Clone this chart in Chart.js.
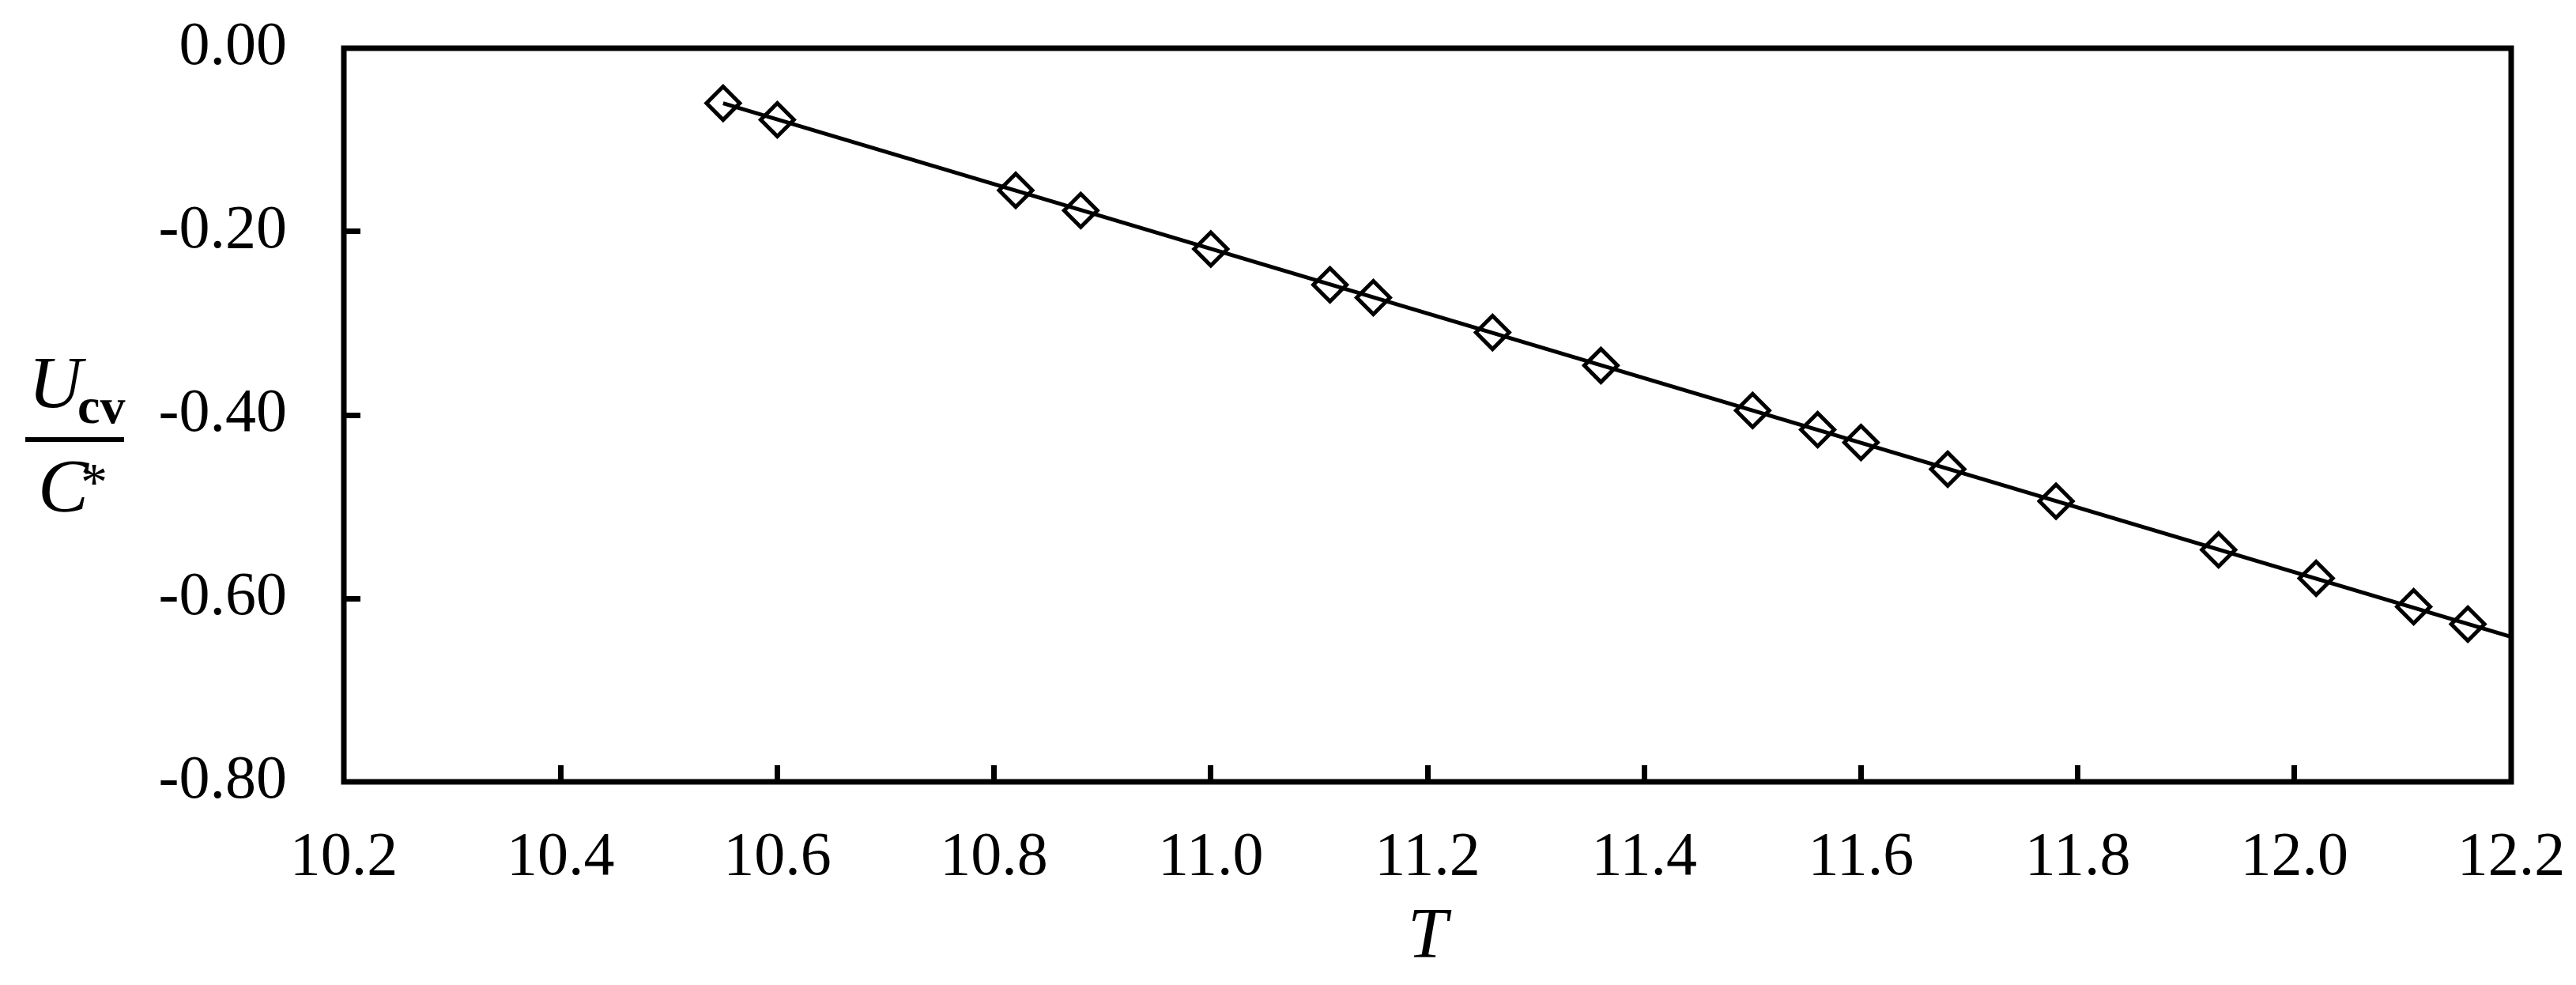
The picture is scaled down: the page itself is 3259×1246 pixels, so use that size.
<!DOCTYPE html>
<html>
<head>
<meta charset="utf-8">
<title>Ucv / C* vs T</title>
<script src="https://cdn.jsdelivr.net/npm/chart.js@4.4.1/dist/chart.umd.min.js"></script>
<style>
  html, body { margin: 0; padding: 0; background: #fff; }
  #chart { display: block; }
</style>
</head>
<body>
<canvas id="chart" width="3259" height="1246"></canvas>
<script>
// ────────────────────────────────────────────────
// Data
// ────────────────────────────────────────────────
const tValues = [10.55, 10.60, 10.82, 10.88, 11.00, 11.11, 11.15, 11.26, 11.36,
                 11.50, 11.56, 11.60, 11.68, 11.78, 11.93, 12.02, 12.11, 12.16];
const uValues = [-0.060, -0.078, -0.155, -0.177, -0.219, -0.258, -0.272, -0.310, -0.346,
                 -0.395, -0.416, -0.430, -0.459, -0.494, -0.547, -0.578, -0.609, -0.628];

// linear trend line, start and end
const fitT = [10.55, 12.2];
const fitU = [-0.060, -0.642];

const xTicks = [10.2, 10.4, 10.6, 10.8, 11.0, 11.2, 11.4, 11.6, 11.8, 12.0, 12.2];
const yTicks = [0.00, -0.20, -0.40, -0.60, -0.80];

const SERIF = '"Liberation Serif", "Times New Roman", Times, serif';
const INK = '#000';

// ────────────────────────────────────────────────
// Plugins: box frame, inward ticks, axis titles
// ────────────────────────────────────────────────
const framePlugin = {
    id: 'frame',
    afterDatasetsDraw(chart) {
        const { ctx, chartArea: a, scales } = chart;
        ctx.save();
        ctx.fillStyle = INK;

        // inward tick marks on bottom and left
        const tickLen = 21, tickW = 7;
        xTicks.slice(1, -1).forEach(v => {
            const px = scales.x.getPixelForValue(v);
            ctx.fillRect(Math.round(px - tickW / 2), a.bottom - tickLen, tickW, tickLen);
        });
        yTicks.slice(1, -1).forEach(v => {
            const py = scales.y.getPixelForValue(v);
            ctx.fillRect(a.left, Math.round(py - tickW / 2), tickLen, tickW);
        });

        // box
        ctx.strokeStyle = INK;
        ctx.lineWidth = 7;
        ctx.strokeRect(a.left, a.top, a.right - a.left, a.bottom - a.top);
        ctx.restore();
    },
    afterDraw(chart) {
        const { ctx, chartArea: a } = chart;
        ctx.save();
        ctx.fillStyle = INK;
        ctx.textBaseline = 'alphabetic';

        // x title
        ctx.textAlign = 'center';
        ctx.font = `italic 90px ${SERIF}`;
        ctx.fillText('T', (a.left + a.right) / 2, 1211);

        // y title as a fraction: U_cv over C*
        ctx.textAlign = 'left';
        ctx.font = `italic 94px ${SERIF}`;
        ctx.fillText('U', 36, 515);
        ctx.font = `bold 64px ${SERIF}`;
        ctx.fillText('cv', 98, 535);
        ctx.fillRect(32, 553, 125, 6);
        ctx.font = `italic 96px ${SERIF}`;
        ctx.fillText('C', 48, 647);
        ctx.font = `68px ${SERIF}`;
        ctx.fillText('*', 102, 632);
        ctx.restore();
    }
};

// ────────────────────────────────────────────────
// Chart
// ────────────────────────────────────────────────
function drawChart() {
    const ctx = document.getElementById('chart').getContext('2d');

    new Chart(ctx, {
        type: 'scatter',
        data: {
            datasets: [
                {
                    label: 'fit',
                    data: fitT.map((t, i) => ({ x: t, y: fitU[i] })),
                    showLine: true,
                    borderColor: INK,
                    borderWidth: 5,
                    pointRadius: 0,
                    fill: false
                },
                {
                    label: 'Ucv/C*',
                    data: tValues.map((t, i) => ({ x: t, y: uValues[i] })),
                    showLine: false,
                    pointStyle: 'rectRot',
                    pointRadius: 21,
                    pointBorderWidth: 5,
                    pointBorderColor: INK,
                    pointBackgroundColor: 'rgba(0,0,0,0)'
                }
            ]
        },
        options: {
            responsive: false,
            animation: false,
            devicePixelRatio: 1,
            layout: { padding: { left: 0, top: 61, right: 82, bottom: 0 } },
            plugins: {
                legend: { display: false },
                tooltip: { enabled: false }
            },
            scales: {
                x: {
                    type: 'linear',
                    min: 10.2,
                    max: 12.2,
                    grid: { display: false, drawTicks: false },
                    border: { display: false },
                    afterFit: scale => {
                        scale.height = 257;
                        scale.paddingLeft = 0;
                        scale.paddingRight = 0;
                    },
                    afterBuildTicks: scale => { scale.ticks = xTicks.map(v => ({ value: v })); },
                    ticks: {
                        padding: 50,
                        color: INK,
                        maxRotation: 0,
                        autoSkip: false,
                        font: { family: SERIF, size: 78 },
                        callback: v => Number(v).toFixed(1)
                    }
                },
                y: {
                    type: 'linear',
                    min: -0.8,
                    max: 0,
                    grid: { display: false, drawTicks: false },
                    border: { display: false },
                    afterFit: scale => {
                        scale.width = 435;
                        scale.paddingTop = 0;
                        scale.paddingBottom = 0;
                    },
                    afterBuildTicks: scale => { scale.ticks = yTicks.map(v => ({ value: v })); },
                    ticks: {
                        padding: 72,
                        color: INK,
                        autoSkip: false,
                        font: { family: SERIF, size: 78 },
                        callback: v => Number(v).toFixed(2)
                    }
                }
            }
        },
        plugins: [framePlugin]
    });
}

// make sure the serif face is ready before the canvas draws text
Promise.all([
    document.fonts.load('78px "Liberation Serif"'),
    document.fonts.load('italic 90px "Liberation Serif"'),
    document.fonts.load('bold 62px "Liberation Serif"')
]).catch(() => {}).then(drawChart);
</script>
</body>
</html>
